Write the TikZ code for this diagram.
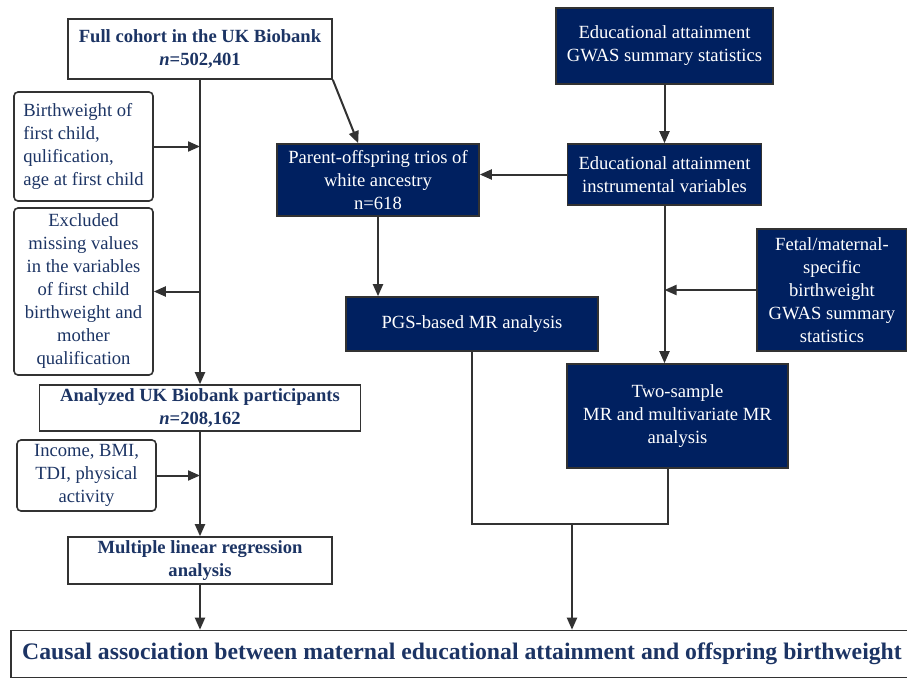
\documentclass[tikz,border=0pt]{standalone}
\usepackage{fontspec}
\setmainfont{Liberation Serif}
\usetikzlibrary{arrows.meta,calc}
\definecolor{navy}{RGB}{0,32,96}
\definecolor{inktxt}{RGB}{28,52,100}
\definecolor{edge}{RGB}{50,50,50}

\begin{document}
\begin{tikzpicture}[x=1pt,y=-1pt,
	every node/.style={font=\fontsize{18.6}{23}\selectfont,inner sep=0pt,align=center},
	wbox/.style={draw=edge,line width=1.6pt,fill=white,text=inktxt,font=\fontsize{18.6}{23}\selectfont\bfseries},
	rbox/.style={draw=edge,line width=1.6pt,rounded corners=4pt,text=inktxt},
	dbox/.style={draw=edge,line width=1.6pt,fill=navy,text=white},
	arr/.style={draw=edge,line width=2pt,-{Triangle[length=12pt,width=10pt]}},
	ln/.style={draw=edge,line width=2pt}]
	\useasboundingbox (0,0) rectangle (907,678);
	% left column: UK Biobank
	\node[wbox,minimum width=264pt,minimum height=60pt] (full) at (200,49) {Full cohort in the UK Biobank\\\textit{n}=502,401};
	\node[rbox,minimum width=139pt,minimum height=109pt,align=left] (bw) at (83.5,146.5) {Birthweight of\\first child,\\qulification,\\age at first child};
	\node[rbox,minimum width=139pt,minimum height=167pt] (excl) at (83.5,291.5) {Excluded\\missing values\\in the variables\\of first child\\birthweight and\\mother\\qualification};
	\node[wbox,minimum width=321pt,minimum height=46pt] (analyzed) at (200,408) {Analyzed UK Biobank participants\\\textit{n}=208,162};
	\node[rbox,minimum width=139pt,minimum height=71pt] (income) at (86.5,475.5) {Income, BMI,\\TDI, physical\\activity};
	\node[wbox,minimum width=264pt,minimum height=47pt] (multi) at (200,560.5) {Multiple linear regression\\analysis};
	\node[wbox,minimum width=902pt,minimum height=47pt,font=\fontsize{23.7}{28}\selectfont\bfseries] (causal) at (462,654) {Causal association between maternal educational attainment and offspring birthweight};
	% right part: MR
	\node[dbox,minimum width=202pt,minimum height=72pt] (parent) at (378,180) {Parent-offspring trios of\\white ancestry\\n=618};
	\node[dbox,minimum width=217pt,minimum height=76pt] (gwas) at (664.5,46) {Educational attainment\\GWAS summary statistics};
	\node[dbox,minimum width=194pt,minimum height=61pt] (iv) at (664.5,174.5) {Educational attainment\\instrumental variables};
	\node[dbox,minimum width=150pt,minimum height=122pt] (fetal) at (832,290) {Fetal/maternal-\\specific\\birthweight\\GWAS summary\\statistics};
	\node[dbox,minimum width=252pt,minimum height=54pt] (pgs) at (472,324) {PGS-based MR analysis};
	\node[dbox,minimum width=221pt,minimum height=104pt] (twos) at (677.5,416) {Two-sample\\MR and multivariate MR\\analysis};
	\coordinate (jn) at (572,524);

	\draw[arr] (full) -- (analyzed);
	\draw[arr] (bw.east) -- (bw.east -| full.south);
	\draw[arr] (excl.east -| full.south) -- (excl.east);
	\draw[arr] (analyzed) -- (multi);
	\draw[arr] (income.east) -- (income.east -| analyzed.south);
	\draw[arr] (multi) -- (multi |- causal.north);
	\draw[arr] (full.south east) -- ($(parent.north west)+(82,0)$);
	\draw[arr] (gwas) -- (iv);
	\draw[arr] (iv.west) -- (iv.west -| parent.east);
	\draw[arr] (iv.south) -- (iv.south |- twos.north);
	\draw[arr] (fetal.west) -- (fetal.west -| iv.south);
	\draw[arr] (parent.south) -- (parent.south |- pgs.north);
	\draw[ln] (pgs.south) |- (jn) -| ($(twos.south)+(-9.5,0)$);
	\draw[arr] (jn) -- (jn |- causal.north);
\end{tikzpicture}
\end{document}
